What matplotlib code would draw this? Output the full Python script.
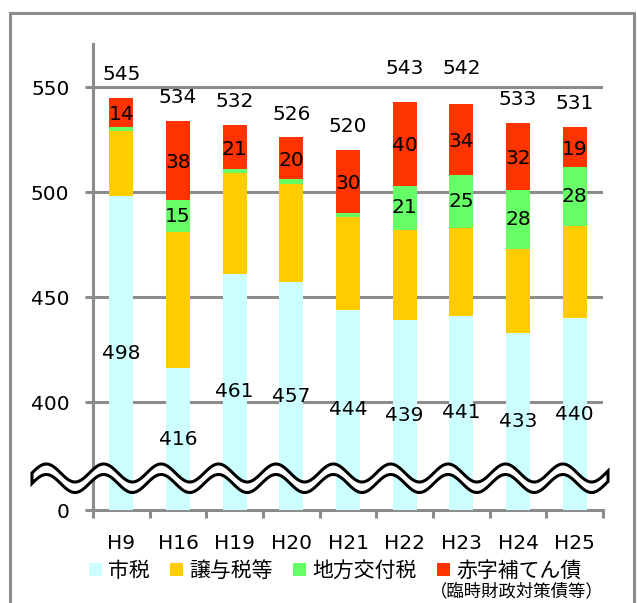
import numpy as np
import matplotlib
matplotlib.use("Agg")
from matplotlib import pyplot as plt
from matplotlib.patches import Rectangle

# data (億円)
years = ["H9", "H16", "H19", "H20", "H21", "H22", "H23", "H24", "H25"]
city_tax = [498, 416, 461, 457, 444, 439, 441, 433, 440]
transfer_tax = [31, 65, 48, 47, 44, 43, 42, 40, 44]
local_grant = [2, 15, 2, 2, 2, 21, 25, 28, 28]
deficit_bond = [14, 38, 21, 20, 30, 40, 34, 32, 19]
totals = [545, 534, 532, 526, 520, 543, 542, 533, 531]

series_names = ["市税", "譲与税等", "地方交付税", "赤字補てん債"]
colors = ["#CCFFFF", "#FFCC00", "#66FF66", "#FF3300"]

Y_BREAK = 348.6   # where "0" sits on the broken axis
Y_TOP = 570.5
GRID = "#8C8C8C"
NUM_FONT = "DejaVu Sans"
NUM_SIZE = 14.5
JP_FONT = ["Noto Sans CJK JP", "DejaVu Sans"]

W, H = 637, 603


def px(x, y):
    """pixel (from top-left) -> figure fraction"""
    return x / W, 1 - y / H


def main():
    fig = plt.figure(figsize=(W / 100, H / 100), dpi=100)
    l, b = px(93, 510)
    ax = fig.add_axes([l, b, (603 - 93) / W, (510 - 44) / H])

    x = np.arange(len(years))
    width = 0.42
    city = np.array(city_tax, dtype=float)
    stacks = [transfer_tax, local_grant, deficit_bond]

    ax.bar(x, city - Y_BREAK, width, bottom=Y_BREAK, color=colors[0],
           zorder=3, label=series_names[0])
    bottom = city.copy()
    bottoms = []
    for vals, col, name in zip(stacks, colors[1:], series_names[1:]):
        vals = np.array(vals, dtype=float)
        ax.bar(x, vals, width, bottom=bottom, color=col, zorder=3, label=name)
        bottoms.append(bottom.copy())
        bottom = bottom + vals

    # segment labels
    for i in range(len(years)):
        ax.text(x[i], (Y_BREAK + city[i]) / 2, str(city_tax[i]),
                ha="center", va="center", fontsize=NUM_SIZE, family=NUM_FONT,
                zorder=5)
        if local_grant[i] >= 10:
            ax.text(x[i], bottoms[1][i] + local_grant[i] / 2,
                    str(local_grant[i]), ha="center", va="center",
                    fontsize=NUM_SIZE, family=NUM_FONT, zorder=5)
        ax.text(x[i], bottoms[2][i] + deficit_bond[i] / 2 - 1,
                str(deficit_bond[i]), ha="center", va="center",
                fontsize=NUM_SIZE, family=NUM_FONT, zorder=5)
        ty = totals[i] + 11
        if abs(ty - 550) < 5:
            ty = 559
        ax.text(x[i], ty, str(totals[i]), ha="center", va="center",
                fontsize=NUM_SIZE, family=NUM_FONT, zorder=5)

    ax.set_xlim(-0.5, len(years) - 0.5)
    ax.set_ylim(Y_BREAK, Y_TOP)
    ax.set_yticks([Y_BREAK, 400, 450, 500, 550])
    ax.set_yticklabels(["0", "400", "450", "500", "550"],
                       fontsize=NUM_SIZE, family=NUM_FONT)
    ax.set_xticks(x)
    ax.set_xticklabels(years, fontsize=NUM_SIZE, family=NUM_FONT)
    ax.set_xticks(np.arange(len(years) + 1) - 0.5, minor=True)
    ax.tick_params(axis="x", which="major", length=0, pad=17)
    ax.tick_params(axis="x", which="minor", length=5.5, width=2.2,
                   color=GRID, direction="out")
    ax.tick_params(axis="y", length=6, width=2.2, color=GRID, pad=11)

    for g in [400, 450, 500, 550]:
        ax.axhline(g, color=GRID, lw=2.2, zorder=1)
    for s in ["top", "right"]:
        ax.spines[s].set_visible(False)
    for s in ["left", "bottom"]:
        ax.spines[s].set_color(GRID)
        ax.spines[s].set_linewidth(2.2)

    # wavy axis break
    xs = np.linspace(32, 608, 600)
    top = 473 + 9 * np.cos(2 * np.pi * (xs - 75) / 57.4)
    bot = top + 10.5
    ft = [px(a, c) for a, c in zip(xs, top)]
    fb = [px(a, c) for a, c in zip(xs, bot)]
    fig.patches.append(plt.Polygon(ft + fb[::-1], closed=True,
                                   transform=fig.transFigure,
                                   facecolor="white", edgecolor="black",
                                   lw=2.2, zorder=10))

    # outer frame
    fl, fbm = px(10, 606)
    fr, ftp = px(634, 13)
    fig.patches.append(Rectangle((fl, fbm), fr - fl, ftp - fbm,
                                 transform=fig.transFigure, fill=False,
                                 edgecolor=GRID, lw=2.2, zorder=0))

    handles, labels = ax.get_legend_handles_labels()
    lx, ly = px(89, 571)
    fig.legend(handles, labels, loc="center left", bbox_to_anchor=(lx, ly),
               ncol=4, frameon=False, prop={"family": JP_FONT, "size": 15},
               handlelength=0.6, handleheight=0.6, handletextpad=0.3,
               columnspacing=1.0, borderpad=0, borderaxespad=0)
    sx, sy = px(430, 591)
    fig.text(sx, sy, "（臨時財政対策債等）", ha="left", va="center",
             family=JP_FONT, fontsize=12.5)

    fig.savefig("out.png", dpi=100)


if __name__ == "__main__":
    main()
